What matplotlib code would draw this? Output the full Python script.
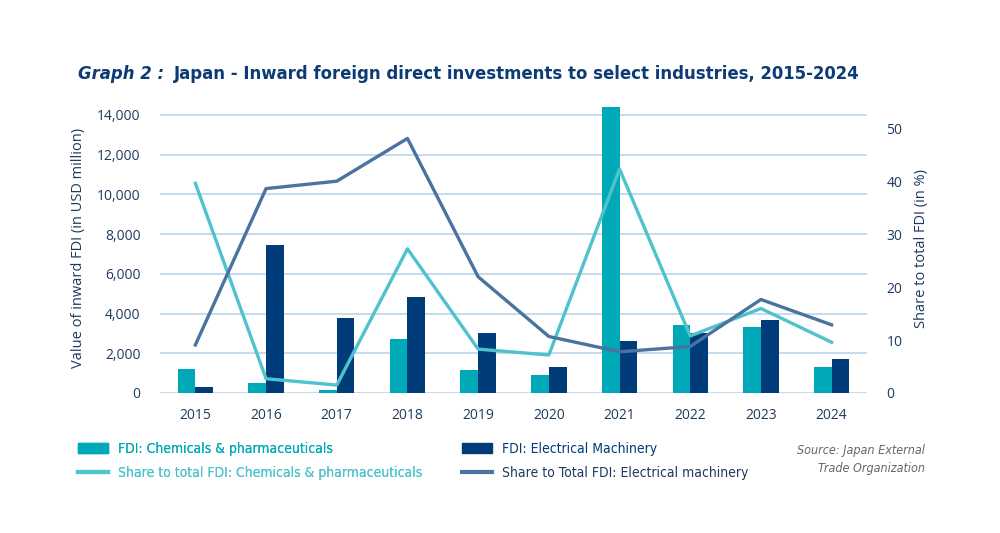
import matplotlib.pyplot as plt
import matplotlib.font_manager as fm
import numpy as np
from matplotlib.patches import Patch
from matplotlib.lines import Line2D

years = ['2015', '2016', '2017', '2018', '2019', '2020', '2021', '2022', '2023', '2024']
fdi_chem = [1190, 520, 150, 2730, 1150, 890, 14400, 3400, 3300, 1320]
fdi_elec = [280, 7440, 3780, 4810, 3000, 1290, 2640, 3000, 3680, 1730]
share_chem = [39.7, 2.7, 1.5, 27.3, 8.3, 7.2, 42.4, 10.8, 16.0, 9.6]
share_elec = [9.1, 38.7, 40.1, 48.2, 22.0, 10.7, 7.8, 8.8, 17.7, 12.9]
left_ticks = [0, 2000, 4000, 6000, 8000, 10000, 12000, 14000]
right_ticks = [0, 10, 20, 30, 40, 50]

c_chem_bar = '#00a9b8'
c_elec_bar = '#003b7a'
c_chem_line = '#4ec3cd'
c_elec_line = '#4a73a0'
c_grid = '#b9d5ea'
c_text = '#1f3a5f'
c_title = '#0d3b75'

# condensed face if the system has one
has_cond = any('Condensed' in f.fname and 'DejaVu' in f.fname for f in fm.fontManager.ttflist)
cond = dict(family='DejaVu Sans', stretch='condensed') if has_cond else dict(family='DejaVu Sans')
plt.rcParams['font.family'] = ['Open Sans', 'DejaVu Sans']

fig = plt.figure(figsize=(10, 5.33), dpi=100)
ax = fig.add_axes([0.16, 0.2627, 0.707, 0.544])
ax2 = ax.twinx()

x = np.arange(len(years))
w = 0.25
ax.bar(x - w / 2, fdi_chem, w, color=c_chem_bar, zorder=2)
ax.bar(x + w / 2, fdi_elec, w, color=c_elec_bar, zorder=2)
ax.set_xlim(-0.5, 9.5)
ax.set_ylim(0, 14600)
ax.set_yticks(left_ticks)
ax.set_yticklabels([f'{v:,}' for v in left_ticks])
ax.set_xticks(x)
ax.set_xticklabels(years)
ax.grid(axis='y', color=c_grid, linewidth=1.2, zorder=0)
ax.set_axisbelow(True)
ax.tick_params(length=0, labelsize=10, colors=c_text, pad=11)
ax.tick_params(axis='y', pad=14)
ax.set_ylabel('Value of inward FDI (in USD million)', fontsize=10.5, color=c_text, labelpad=8)

ax2.plot(x, share_chem, color=c_chem_line, linewidth=2.4, zorder=3)
ax2.plot(x, share_elec, color=c_elec_line, linewidth=2.4, zorder=3)
ax2.set_ylim(0, 54.9)
ax2.set_yticks(right_ticks)
ax2.tick_params(length=0, labelsize=10, colors=c_text, pad=14)
ax2.set_ylabel('Share to total FDI (in %)', fontsize=10.5, color=c_text, labelpad=8)

for a in (ax, ax2):
    for s in a.spines.values():
        s.set_visible(False)

# title in two parts, scaled so it spans the same width as the reference
fig.canvas.draw()
r = fig.canvas.get_renderer()
t1 = fig.text(0.078, 0.852, 'Graph 2 :', fontsize=15, fontweight='bold', style='italic',
              color=c_title, va='baseline', **cond)
t2 = fig.text(0.2, 0.852, 'Japan - Inward foreign direct investments to select industries, 2015-2024',
              fontsize=15, fontweight='bold', color=c_title, va='baseline', **cond)
w1 = t1.get_window_extent(r).width
w2 = t2.get_window_extent(r).width
scale = (860 - 78 - 10) / (w1 + w2)
size = min(15, 15 * scale)
t1.set_fontsize(size)
t2.set_fontsize(size)
w1 = t1.get_window_extent(r).width
t2.set_x(0.078 + (w1 + 10) / 1000)

leg_size = 10 if has_cond else 9
leg_kw = dict(loc='center left', frameon=False, handlelength=2.15, handleheight=0.8,
              handletextpad=0.7, labelspacing=0.75, borderaxespad=0, borderpad=0,
              prop=dict(size=leg_size, **cond))
leg1 = fig.legend([Patch(color=c_chem_bar), Line2D([], [], color=c_chem_line, linewidth=3)],
                  ['FDI: Chemicals & pharmaceuticals', 'Share to total FDI: Chemicals & pharmaceuticals'],
                  bbox_to_anchor=(0.078, 0.135), **leg_kw)
for t, c in zip(leg1.get_texts(), [c_chem_bar, c_chem_line]):
    t.set_color(c)
leg2 = fig.legend([Patch(color=c_elec_bar), Line2D([], [], color=c_elec_line, linewidth=3)],
                  ['FDI: Electrical Machinery', 'Share to Total FDI: Electrical machinery'],
                  bbox_to_anchor=(0.462, 0.135), **leg_kw)
for t, c in zip(leg2.get_texts(), [c_elec_bar, c_text]):
    t.set_color(c)
fig.add_artist(leg1)

fig.text(0.925, 0.138, 'Source: Japan External\nTrade Organization', ha='right', va='center',
         fontsize=9, style='italic', color='#666666', linespacing=1.5, **cond)

fig.savefig('out.png', dpi=100)
